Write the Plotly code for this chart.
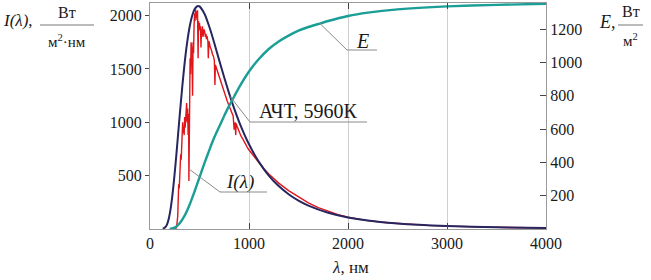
import numpy as np
import plotly.graph_objects as go

# ---- data ----
# Blackbody curve "АЧТ, 5960К" (left axis)
bb_wl = [130,160,175,190,200,210,225,240,250,260,275,300,325,350,375,400,425,450,475,486,
         500,550,600,650,700,750,800,850,900,1000,1100,1200,1300,1400,1500,1600,1800,2000,
         2200,2500,3000,3500,4000]
bb_I = [1,22,50,99,144,201,306,435,530,630,792,1065,1325,1557,1747,1893,1996,2059,2087,2090,
        2086,2017,1893,1741,1578,1419,1269,1130,1005,794,629,501,402,326,266,219,152,108,
        79,51,27,16,10]

# Measured spectrum I(λ) (left axis)
red_wl = [260,270,280,285,290,295,300,305,310,315,320,325,330,335,340,345,350,355,360,365,
          370,375,380,385,390,393,395,397,400,405,410,415,420,425,430,435,440,445,450,455,
          460,465,470,475,480,486,490,495,500,505,510,515,518,520,525,530,535,540,545,550,
          555,560,565,570,575,580,585,589,595,600,610,620,630,640,650,656,660,670,680,690,
          700,720,740,760,780,800,820,840,850,860,866,870,880,900,920,940,960,980,1000,1050,
          1100,1150,1200,1300,1400,1500,1600,1700,1800,1900,2000,2200,2400,2600,2800,3000,
          3300,3600,4000]
red_I = [0,30,120,250,420,380,480,560,700,650,820,760,1000,900,960,880,1050,950,1030,1100,
         1180,1000,1130,880,1080,450,900,560,1350,1600,1450,1750,1700,1600,1250,1750,1650,1900,2020,1950,
         2060,1980,2040,1960,2050,1600,1950,1880,1930,1860,1900,1700,1800,1820,1880,1900,1800,1850,1870,1860,
         1820,1800,1830,1780,1810,1790,1760,1600,1760,1740,1700,1680,1640,1620,1580,1350,1540,1510,1480,1450,
         1420,1370,1320,1260,1200,1150,1100,1060,930,1000,880,990,960,910,870,840,800,770,740,680,
         620,565,515,430,360,300,245,200,165,135,110,78,58,44,34,27,
         19,14,10]

# Integrated flux E (right axis)
E_wl = [200,250,300,350,400,450,500,550,600,650,700,750,800,850,900,1000,1100,1200,1300,1400,
        1500,1600,1700,1800,2000,2200,2500,3000,3500,4000]
E_val = [0,8,35,80,145,225,310,395,475,550,615,680,740,795,850,945,1020,1080,1125,1160,
         1190,1212,1230,1248,1278,1298,1318,1336,1345,1351]

x_ticks = [0, 1000, 2000, 3000, 4000]
yl_ticks = [500, 1000, 1500, 2000]
yr_ticks = [200, 400, 600, 800, 1000, 1200]

XMAX, YLMAX, YRMAX = 4000, 2118, 1356
FONT = "Liberation Serif"

W, H = 651, 280
L, R, T, B = 150, 546, 3, 229

def P(px, py):
    return (px - L) / (R - L), (B - py) / (B - T)

fig = go.Figure()
fig.add_trace(go.Scatter(x=E_wl, y=E_val, yaxis="y2", mode="lines",
                         line=dict(color="#1a9e96", width=2.4, shape="spline", smoothing=0.6),
                         showlegend=False))
fig.add_trace(go.Scatter(x=red_wl, y=red_I, mode="lines",
                         line=dict(color="#e0161b", width=1.4), showlegend=False))
fig.add_trace(go.Scatter(x=bb_wl, y=bb_I, mode="lines",
                         line=dict(color="#262660", width=2, shape="spline", smoothing=0.6),
                         showlegend=False))

ann = []
shapes = []

def text(px, py, s, size, xanchor="center"):
    x, y = P(px, py)
    ann.append(dict(x=x, y=y, xref="paper", yref="paper", text=s, showarrow=False,
                    xanchor=xanchor, yanchor="middle",
                    font=dict(family=FONT, size=size, color="#1a1a1a")))

def hline(px0, px1, py, color="#777"):
    x0, y0 = P(px0, py)
    x1, _ = P(px1, py)
    shapes.append(dict(type="line", xref="paper", yref="paper", x0=x0, x1=x1, y0=y0, y1=y0,
                       line=dict(color=color, width=1)))

def leader(xa, ya, px1, py1, px2):
    x1, y1 = P(px1, py1)
    x2, _ = P(px2, py1)
    path = f"M {xa},{ya} L {x1},{y1} L {x2},{y1}"
    shapes.append(dict(type="path", xref="paper", yref="paper", path=path,
                       line=dict(color="#8a8a8a", width=1)))

# axis titles
text(18, 20, "<i>I(λ)</i>,", 17)
text(67, 13, "Вт", 16)
hline(40, 94, 25)
text(67, 41, "м<sup>2</sup>·нм", 15)

text(607, 22, "<i>E</i>,", 18)
text(631, 12, "Вт", 16)
hline(618, 643, 25)
text(630, 40, "м<sup>2</sup>", 15)

text(350, 267, "<i>λ</i>, нм", 17)

# in-plot labels with leader lines
lam_E = 1717
leader(lam_E / XMAX, float(np.interp(lam_E, E_wl, E_val)) / YRMAX, 347, 50, 377)
text(362, 41, "<i>E</i>", 20)

lam_bb = 810
leader(lam_bb / XMAX, float(np.interp(lam_bb, bb_wl, bb_I)) / YLMAX, 250, 122, 367)
text(308, 111, "АЧТ, 5960К", 20)

lam_r = 397
leader(lam_r / XMAX, float(np.interp(lam_r, red_wl, red_I)) / YLMAX, 220, 192, 267)
text(240, 182, "<i>I(λ)</i>", 19)

tickfont = dict(family=FONT, size=16, color="#1a1a1a")

fig.update_layout(
    width=W, height=H,
    margin=dict(l=L, r=W - R, t=T, b=H - B),
    paper_bgcolor="white", plot_bgcolor="white",
    xaxis=dict(range=[0, XMAX], tickvals=x_ticks, ticktext=[str(v) for v in x_ticks],
               showgrid=True, gridcolor="#cfcfcf", gridwidth=1, zeroline=False,
               showline=True, linecolor="#9a9a9a", linewidth=1, mirror="ticks",
               ticks="inside", ticklen=6, tickcolor="#444", tickfont=tickfont),
    yaxis=dict(range=[0, YLMAX], tickvals=yl_ticks, ticktext=[str(v) for v in yl_ticks],
               showgrid=False, zeroline=False, showline=True, linecolor="#9a9a9a",
               linewidth=1, ticks="outside", ticklen=4, tickcolor="#444", tickfont=tickfont),
    yaxis2=dict(range=[0, YRMAX], tickvals=yr_ticks, ticktext=[str(v) for v in yr_ticks],
                overlaying="y", side="right", showgrid=False, zeroline=False, showline=True,
                linecolor="#9a9a9a", linewidth=1, ticks="inside", ticklen=6,
                tickcolor="#444", tickfont=tickfont),
    annotations=ann, shapes=shapes, showlegend=False,
)

fig.write_html("out.html", config={"displayModeBar": False},
               post_script="document.body.style.margin='0';document.body.style.padding='0';")
